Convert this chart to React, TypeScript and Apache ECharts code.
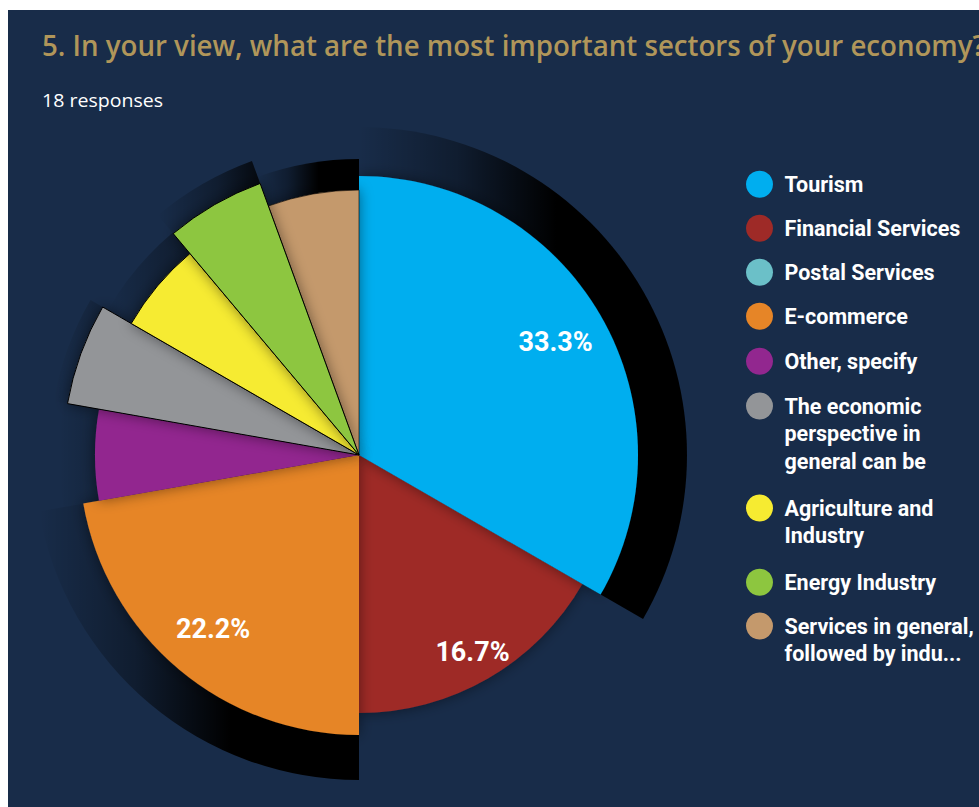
import React, { useEffect, useRef } from 'react';
import * as echarts from 'echarts';

const categories = [
  'Tourism',
  'Financial Services',
  'Postal Services',
  'E-commerce',
  'Other, specify',
  'The economic perspective in general can be',
  'Agriculture and Industry',
  'Energy Industry',
  'Services in general, followed by indu...',
];
const responses = [6, 3, 0, 4, 1, 1, 1, 1, 1];
const colors = ['#00aeef', '#9e2a27', '#6bc0c8', '#e68527', '#92278f', '#939598', '#f6eb31', '#8dc63f', '#c4996c'];
const legendLines = [
  ['Tourism'],
  ['Financial Services'],
  ['Postal Services'],
  ['E-commerce'],
  ['Other, specify'],
  ['The economic', 'perspective in', 'general can be'],
  ['Agriculture and', 'Industry'],
  ['Energy Industry'],
  ['Services in general,', 'followed by indu...'],
];
const titleText = '5. In your view, what are the most important sectors of your economy?';
const subtitleText = '18 responses';

// layout / style constants
const CENTER = [359, 455];
const sliceRadius = [279, 258, 258, 280, 264, 296, 263, 289, 265];
const shadowRadius = [328, 0, 0, 325, 300, 310, 290, 313, 296];
const outlineWidth = [0, 0, 0, 0, 0, 1, 1, 1, 0.6];
const drawOrder = [1, 0, 3, 4, 5, 6, 8, 7, 2];
const legendCenters = [184, 228, 272, 316, 361, 406, 508, 582, 626];
const BOLD_FONT = 'Roboto, "Liberation Sans Narrow", sans-serif';
const NAVY = '#182c49';

function measure(text: string, font: string): number {
  const ctx = document.createElement('canvas').getContext('2d');
  if (!ctx) return 1;
  ctx.font = font;
  return ctx.measureText(text).width || 1;
}

export default function App() {
  const ref = useRef<HTMLDivElement>(null);
  useEffect(() => {
    if (!ref.current) return;
    const chart = echarts.init(ref.current, undefined, { renderer: 'svg' });

    const titleFont = '600 29px "Open Sans"';
    const subFont = '500 19px "Open Sans"';
    const titleScale = 944 / measure(titleText, titleFont);
    const subScale = 121 / measure(subtitleText, subFont);

    const shadowGradient = () =>
      new echarts.graphic.LinearGradient(0, 0, 1, 0, [
        { offset: 0, color: 'rgba(0,0,0,0)' },
        { offset: 0.3, color: 'rgba(0,0,0,0.35)' },
        { offset: 0.6, color: 'rgba(0,0,0,1)' },
        { offset: 1, color: 'rgba(0,0,0,1)' },
      ]);

    const base = {
      type: 'pie',
      center: CENTER,
      startAngle: 90,
      clockwise: true,
      minAngle: 0,
      avoidLabelOverlap: false,
      label: { show: false },
      labelLine: { show: false },
      emphasis: { disabled: true },
      selectedMode: false,
    };

    const shadowSeries = drawOrder
      .filter((i) => shadowRadius[i] > 0 && responses[i] > 0)
      .map((i) => ({
        ...base,
        name: 'shadow-' + i,
        silent: true,
        radius: [0, shadowRadius[i]],
        data: categories.map((n, j) => ({
          name: n,
          value: responses[j],
          itemStyle: j === i ? { color: shadowGradient(), borderWidth: 0 } : { color: 'transparent', borderWidth: 0 },
        })),
      }));

    const sliceSeries = drawOrder.map((i) => ({
      ...base,
      name: 'slice-' + i,
      radius: [0, sliceRadius[i]],
      data: categories.map((n, j) => ({
        name: n,
        value: responses[j],
        itemStyle:
          j === i
            ? {
                color: colors[i],
                borderColor: '#000',
                borderWidth: outlineWidth[i],
                shadowBlur: 14,
                shadowColor: 'rgba(0,0,0,0.45)',
              }
            : { color: 'transparent', borderWidth: 0 },
      })),
    }));

    const labelSeries = {
      ...base,
      name: 'labels',
      silent: true,
      radius: [174, 274],
      percentPrecision: 1,
      label: {
        show: true,
        position: 'inside',
        formatter: (p: any) => (p.percent >= 10 ? p.percent.toFixed(1) + '%' : ''),
        color: '#fff',
        fontSize: 27,
        fontWeight: 'bold',
        fontFamily: BOLD_FONT,
      },
      data: categories.map((n, j) => ({
        name: n,
        value: responses[j],
        itemStyle: { color: 'transparent', borderWidth: 0 },
      })),
    };

    const LH = 27.5;
    const IH = 27;
    const legends = categories.map((name, i) => {
      const n = legendLines[i].length;
      // leading empty lines so the first text line sits level with the icon
      const text = Array(n - 1).fill('').concat(legendLines[i]).join('\n');
      const boxTop = n === 1 ? 0 : IH / 2 - ((2 * n - 1) * LH) / 2;
      return {
        orient: 'vertical',
        left: 746,
        top: legendCenters[i] - IH / 2 + boxTop,
        padding: 0,
        itemWidth: 40,
        itemHeight: IH,
        itemGap: 0,
        icon: 'circle',
        selectedMode: false,
        data: [{ name, itemStyle: { color: colors[i], borderWidth: 0, shadowBlur: 0 } }],
        formatter: () => text,
        textStyle: {
          color: '#fff',
          fontSize: 21.5,
          fontWeight: 'bold',
          fontFamily: BOLD_FONT,
          lineHeight: LH,
        },
      };
    });

    chart.setOption({
      animation: false,
      backgroundColor: 'transparent',
      graphic: [
        { type: 'rect', z: -10, silent: true, shape: { x: 8, y: 10, width: 971, height: 797 }, style: { fill: NAVY } },
        {
          type: 'text',
          x: 42,
          y: 45,
          scaleX: titleScale,
          style: {
            text: titleText,
            font: titleFont,
            fill: '#b0965a',
            verticalAlign: 'middle',
            textVerticalAlign: 'middle',
          },
        },
        {
          type: 'text',
          x: 42,
          y: 100,
          scaleX: subScale,
          style: {
            text: subtitleText,
            font: subFont,
            fill: '#ffffff',
            verticalAlign: 'middle',
            textVerticalAlign: 'middle',
          },
        },
      ],
      legend: legends,
      series: [...shadowSeries, ...sliceSeries, labelSeries],
    });
    return () => chart.dispose();
  }, []);
  return (
    <div
      ref={ref}
      style={{ position: 'absolute', left: 0, top: 0, width: 979, height: 807, overflow: 'hidden' }}
    />
  );
}
